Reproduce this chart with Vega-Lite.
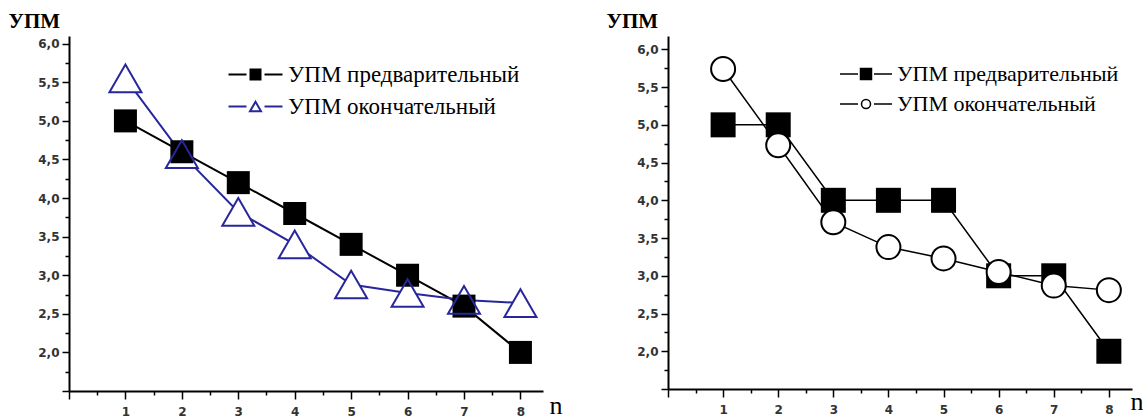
{
  "$schema": "https://vega.github.io/schema/vega-lite/v6.json",
  "background": "white",
  "padding": {"left": 8, "top": 10, "right": 0, "bottom": 0},
  "autosize": {"type": "pad"},
  "config": {
    "locale": {"number": {"decimal": ",", "thousands": " ", "grouping": [3], "currency": ["", ""]}},
    "view": {"stroke": null},
    "axis": {
      "grid": false,
      "domainColor": "black",
      "domainWidth": 2,
      "tickColor": "black",
      "tickWidth": 1.5,
      "labelFont": "DejaVu Sans",
      "labelFontWeight": "bold",
      "labelFontSize": 12,
      "labelColor": "#333333",
      "labelOverlap": false,
      "labelFlush": false
    }
  },
  "datasets": {
    "left": [
      {"n": 1, "v": 5.0, "series": "УПМ предварительный"},
      {"n": 2, "v": 4.6, "series": "УПМ предварительный"},
      {"n": 3, "v": 4.2, "series": "УПМ предварительный"},
      {"n": 4, "v": 3.8, "series": "УПМ предварительный"},
      {"n": 5, "v": 3.4, "series": "УПМ предварительный"},
      {"n": 6, "v": 3.0, "series": "УПМ предварительный"},
      {"n": 7, "v": 2.6, "series": "УПМ предварительный"},
      {"n": 8, "v": 2.0, "series": "УПМ предварительный"},
      {"n": 1, "v": 5.55, "series": "УПМ окончательный"},
      {"n": 2, "v": 4.57, "series": "УПМ окончательный"},
      {"n": 3, "v": 3.82, "series": "УПМ окончательный"},
      {"n": 4, "v": 3.4, "series": "УПМ окончательный"},
      {"n": 5, "v": 2.88, "series": "УПМ окончательный"},
      {"n": 6, "v": 2.77, "series": "УПМ окончательный"},
      {"n": 7, "v": 2.68, "series": "УПМ окончательный"},
      {"n": 8, "v": 2.64, "series": "УПМ окончательный"}
    ],
    "right": [
      {"n": 1, "v": 5.0, "series": "УПМ предварительный"},
      {"n": 2, "v": 5.0, "series": "УПМ предварительный"},
      {"n": 3, "v": 4.0, "series": "УПМ предварительный"},
      {"n": 4, "v": 4.0, "series": "УПМ предварительный"},
      {"n": 5, "v": 4.0, "series": "УПМ предварительный"},
      {"n": 6, "v": 3.0, "series": "УПМ предварительный"},
      {"n": 7, "v": 3.0, "series": "УПМ предварительный"},
      {"n": 8, "v": 2.0, "series": "УПМ предварительный"},
      {"n": 1, "v": 5.74, "series": "УПМ окончательный"},
      {"n": 2, "v": 4.73, "series": "УПМ окончательный"},
      {"n": 3, "v": 3.71, "series": "УПМ окончательный"},
      {"n": 4, "v": 3.38, "series": "УПМ окончательный"},
      {"n": 5, "v": 3.23, "series": "УПМ окончательный"},
      {"n": 6, "v": 3.05, "series": "УПМ окончательный"},
      {"n": 7, "v": 2.87, "series": "УПМ окончательный"},
      {"n": 8, "v": 2.81, "series": "УПМ окончательный"}
    ]
  },
  "spacing": 125,
  "bounds": "flush",
  "resolve": {"scale": {"color": "independent"}, "legend": {"color": "independent"}},
  "hconcat": [
    {
      "width": 474,
      "height": 355,
      "data": {"name": "left"},
      "layer": [
        {
          "mark": {"type": "line", "strokeWidth": 2},
          "encoding": {
            "x": {
              "field": "n", "type": "quantitative",
              "scale": {"domain": [0, 8.4], "nice": false, "zero": false},
              "axis": {
                "values": [0, 0.5, 1, 1.5, 2, 2.5, 3, 3.5, 4, 4.5, 5, 5.5, 6, 6.5, 7, 7.5, 8],
                "tickCount": 100,
                "labelExpr": "datum.value > 0 && datum.value % 1 === 0 ? format(datum.value, 'd') : ''",
                "labelOverlap": false,
                "tickSize": {"condition": {"test": "datum.value % 1 !== 0", "value": 4}, "value": 8},
                "labelPadding": 7,
                "title": "n",
                "titleFont": "Liberation Serif, Times New Roman, serif",
                "titleFontSize": 26,
                "titleFontWeight": "normal",
                "titleColor": "black",
                "titleAlign": "left",
                "titleBaseline": "alphabetic",
                "titleAngle": 0,
                "titleX": 480,
                "titleY": 22
              }
            },
            "y": {
              "field": "v", "type": "quantitative",
              "scale": {"domain": [1.5, 6.1], "nice": false, "zero": false},
              "axis": {
                "values": [1.5, 1.75, 2, 2.25, 2.5, 2.75, 3, 3.25, 3.5, 3.75, 4, 4.25, 4.5, 4.75, 5, 5.25, 5.5, 5.75, 6],
                "tickCount": 100,
                "format": ".1f",
                "labelExpr": "datum.value >= 2 && datum.value % 0.5 === 0 ? datum.label : ''",
                "labelOverlap": false,
                "tickSize": {"condition": {"test": "datum.value % 0.5 !== 0", "value": 4}, "value": 7},
                "labelPadding": 3,
                "title": "УПМ",
                "titleFont": "Liberation Serif, Times New Roman, serif",
                "titleFontSize": 21,
                "titleFontWeight": "bold",
                "titleColor": "black",
                "titleAngle": 0,
                "titleAlign": "left",
                "titleBaseline": "alphabetic",
                "titleX": -61,
                "titleY": -9
              }
            },
            "color": {
              "field": "series", "type": "nominal",
              "scale": {"domain": ["УПМ предварительный", "УПМ окончательный"], "range": ["#000000", "#27279b"]},
              "legend": {
                "orient": "none",
                "legendX": 154,
                "legendY": 27,
                "title": null,
                "padding": 0,
                "symbolSize": 100,
                "symbolStrokeWidth": 2,
                "symbolOffset": 21,
                "labelOffset": 21,
                "labelFont": "Liberation Serif, Times New Roman, serif",
                "labelFontSize": 23,
                "labelColor": "black",
                "labelLimit": 400,
                "rowPadding": 8,
                "encode": {
                  "symbols": {
                    "update": {
                      "shape": {"signal": "datum.value === 'УПМ предварительный' ? 'M-5.4,0H-1.8M1.8,0H5.4M-1,-1H1V1H-1Z' : 'M-5.4,0H-1.8M1.8,0H5.4M0,-0.95L1.1,0.95L-1.1,0.95Z'"},
                      "fill": {"signal": "datum.value === 'УПМ предварительный' ? 'black' : 'white'"}
                    }
                  }
                }
              }
            }
          }
        },
        {
          "transform": [{"filter": "datum.series === 'УПМ окончательный'"}],
          "mark": {"type": "point", "shape": "triangle-up", "size": 1024, "filled": true, "fill": "white", "stroke": null, "opacity": 1},
          "encoding": {
            "x": {"field": "n", "type": "quantitative"},
            "y": {"field": "v", "type": "quantitative"}
          }
        },
        {
          "transform": [{"filter": "datum.series === 'УПМ предварительный'"}],
          "mark": {"type": "point", "shape": "square", "size": 529, "filled": true, "color": "black", "opacity": 1},
          "encoding": {
            "x": {"field": "n", "type": "quantitative"},
            "y": {"field": "v", "type": "quantitative"}
          }
        },
        {
          "transform": [{"filter": "datum.series === 'УПМ окончательный'"}],
          "mark": {"type": "point", "shape": "triangle-up", "size": 1024, "filled": false, "stroke": "#27279b", "strokeWidth": 2, "opacity": 1},
          "encoding": {
            "x": {"field": "n", "type": "quantitative"},
            "y": {"field": "v", "type": "quantitative"}
          }
        }
      ]
    },
    {
      "width": 464,
      "height": 353,
      "data": {"name": "right"},
      "layer": [
        {
          "mark": {"type": "line", "strokeWidth": 1.5},
          "encoding": {
            "x": {
              "field": "n", "type": "quantitative",
              "scale": {"domain": [0, 8.42], "nice": false, "zero": false},
              "axis": {
                "values": [0, 0.5, 1, 1.5, 2, 2.5, 3, 3.5, 4, 4.5, 5, 5.5, 6, 6.5, 7, 7.5, 8],
                "tickCount": 100,
                "labelExpr": "datum.value > 0 && datum.value % 1 === 0 ? format(datum.value, 'd') : ''",
                "labelOverlap": false,
                "tickSize": {"condition": {"test": "datum.value % 1 !== 0", "value": 4}, "value": 8},
                "labelPadding": 7,
                "title": "n",
                "titleFont": "Liberation Serif, Times New Roman, serif",
                "titleFontSize": 26,
                "titleFontWeight": "normal",
                "titleColor": "black",
                "titleAlign": "left",
                "titleBaseline": "alphabetic",
                "titleAngle": 0,
                "titleX": 462,
                "titleY": 20
              }
            },
            "y": {
              "field": "v", "type": "quantitative",
              "scale": {"domain": [1.5, 6.177], "nice": false, "zero": false},
              "axis": {
                "values": [1.5, 1.75, 2, 2.25, 2.5, 2.75, 3, 3.25, 3.5, 3.75, 4, 4.25, 4.5, 4.75, 5, 5.25, 5.5, 5.75, 6],
                "tickCount": 100,
                "format": ".1f",
                "labelExpr": "datum.value >= 2 && datum.value % 0.5 === 0 ? datum.label : ''",
                "labelOverlap": false,
                "tickSize": {"condition": {"test": "datum.value % 0.5 !== 0", "value": 4}, "value": 7},
                "labelPadding": 3,
                "title": "УПМ",
                "titleFont": "Liberation Serif, Times New Roman, serif",
                "titleFontSize": 21,
                "titleFontWeight": "bold",
                "titleColor": "black",
                "titleAngle": 0,
                "titleAlign": "left",
                "titleBaseline": "alphabetic",
                "titleX": -62,
                "titleY": -9
              }
            },
            "color": {
              "field": "series", "type": "nominal",
              "scale": {"domain": ["УПМ предварительный", "УПМ окончательный"], "range": ["#000000", "#000000"]},
              "legend": {
                "orient": "none",
                "legendX": 167,
                "legendY": 27,
                "title": null,
                "padding": 0,
                "symbolSize": 100,
                "symbolStrokeWidth": 1.5,
                "symbolOffset": 20,
                "labelOffset": 20,
                "labelFont": "Liberation Serif, Times New Roman, serif",
                "labelFontSize": 22,
                "labelColor": "black",
                "labelLimit": 400,
                "rowPadding": 8,
                "encode": {
                  "symbols": {
                    "update": {
                      "shape": {"signal": "datum.value === 'УПМ предварительный' ? 'M-5.2,0H-1.6M1.6,0H5.2M-1.1,-1.1H1.1V1.1H-1.1Z' : 'M-5.2,0H-1.6M1.6,0H5.2M0.9,0A0.9,0.9 0 1,1 -0.9,0A0.9,0.9 0 1,1 0.9,0Z'"},
                      "fill": {"signal": "datum.value === 'УПМ предварительный' ? 'black' : 'white'"}
                    }
                  }
                }
              }
            }
          }
        },
        {
          "transform": [{"filter": "datum.series === 'УПМ предварительный'"}],
          "mark": {"type": "point", "shape": "square", "size": 625, "filled": true, "color": "black", "opacity": 1},
          "encoding": {
            "x": {"field": "n", "type": "quantitative"},
            "y": {"field": "v", "type": "quantitative"}
          }
        },
        {
          "transform": [{"filter": "datum.series === 'УПМ окончательный'"}],
          "mark": {"type": "point", "shape": "circle", "size": 576, "filled": true, "fill": "white", "stroke": "black", "strokeWidth": 2, "opacity": 1},
          "encoding": {
            "x": {"field": "n", "type": "quantitative"},
            "y": {"field": "v", "type": "quantitative"}
          }
        }
      ]
    }
  ]
}
